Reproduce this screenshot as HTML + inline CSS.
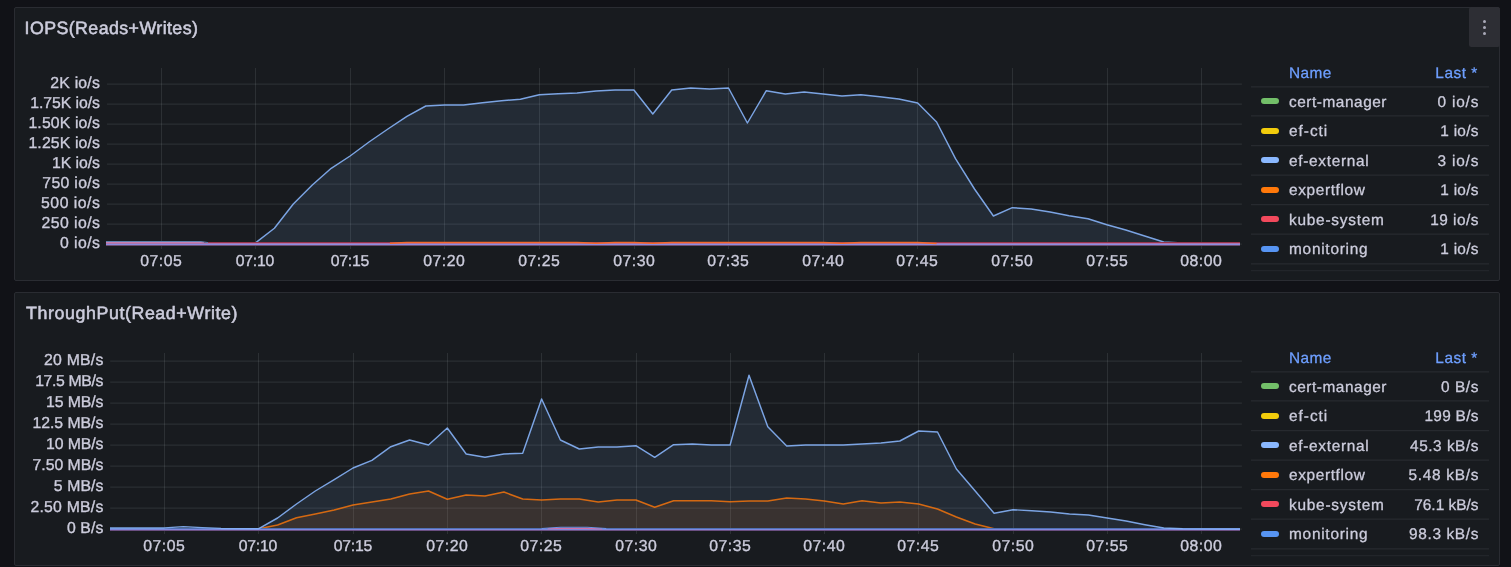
<!DOCTYPE html>
<html lang="en"><head><meta charset="utf-8"><title>Dashboard</title>
<style>
html,body{margin:0;padding:0;background:#111217;}
body{text-rendering:geometricPrecision;width:1511px;height:567px;overflow:hidden;position:relative;font-family:"Liberation Sans",Arial,sans-serif;color:#ccccdc;}
.panel{position:absolute;left:14px;width:1486px;height:274px;background:#181b1f;border:1px solid #2a2c32;border-radius:2px;box-sizing:border-box;}
.title{position:absolute;left:9.8px;top:9.1px;font-size:17.8px;line-height:22px;white-space:pre;color:#ccccdc;margin:0;font-weight:400;-webkit-text-stroke:0.55px #ccccdc;}
.menu{position:absolute;left:1454px;top:-1px;width:31px;height:40px;background:#2d2e34;border-radius:2.5px;}
.menu i{position:absolute;left:13.5px;width:3.2px;height:3.2px;border-radius:50%;background:#a9a9b8;}
svg.chart{position:absolute;left:-1px;top:-1px;}
.t{position:absolute;white-space:pre;font-size:15.8px;line-height:18px;height:18px;-webkit-text-stroke:0.35px #ccccdc;}
.yl{text-align:right;}
.xl{text-align:center;width:60px;}
.lg{position:absolute;left:1236px;width:238px;}
.lg .hd{position:absolute;color:#6e9fff;font-size:15.4px;line-height:18px;white-space:pre;-webkit-text-stroke:0.3px #6e9fff;}
.lg .sw{position:absolute;left:10px;width:18px;height:6px;border-radius:3px;}
.lg .nm,.lg .vl{position:absolute;font-size:15.4px;line-height:18px;white-space:pre;-webkit-text-stroke:0.3px #ccccdc;}
.lg .nm{left:38px;}
.lg .vl{right:10.6px;text-align:right;}
</style></head><body>
<section class="panel" style="top:7px">
<svg class="chart" width="1486" height="274" viewBox="14 7 1486 274">
<g stroke="rgb(240,250,255)" stroke-opacity="0.085" stroke-width="1.25">
<line x1="106.9" y1="84.0" x2="1241.9" y2="84.0"/>
<line x1="106.9" y1="104.0" x2="1241.9" y2="104.0"/>
<line x1="106.9" y1="124.0" x2="1241.9" y2="124.0"/>
<line x1="106.9" y1="144.0" x2="1241.9" y2="144.0"/>
<line x1="106.9" y1="164.0" x2="1241.9" y2="164.0"/>
<line x1="106.9" y1="184.0" x2="1241.9" y2="184.0"/>
<line x1="106.9" y1="204.0" x2="1241.9" y2="204.0"/>
<line x1="106.9" y1="224.0" x2="1241.9" y2="224.0"/>
<line x1="106.9" y1="244.0" x2="1241.9" y2="244.0"/>
</g>
<g fill="rgb(240,250,255)" fill-opacity="0.095" shape-rendering="crispEdges">
<rect x="161" y="68" width="1" height="181"/>
<rect x="255" y="68" width="1" height="181"/>
<rect x="350" y="68" width="1" height="181"/>
<rect x="444" y="68" width="1" height="181"/>
<rect x="539" y="68" width="1" height="181"/>
<rect x="634" y="68" width="1" height="181"/>
<rect x="728" y="68" width="1" height="181"/>
<rect x="823" y="68" width="1" height="181"/>
<rect x="917" y="68" width="1" height="181"/>
<rect x="1012" y="68" width="1" height="181"/>
<rect x="1107" y="68" width="1" height="181"/>
<rect x="1201" y="68" width="1" height="181"/>
</g>
<path d="M255.5,242.9 L274.4,228.3 L293.3,204.0 L312.3,185.0 L331.2,168.3 L350.1,156.0 L369.0,142.0 L387.9,129.0 L406.9,116.3 L425.8,106.0 L444.7,105.0 L463.6,105.0 L482.5,102.7 L501.5,100.7 L520.4,99.2 L539.3,94.7 L558.2,93.7 L577.1,93.0 L596.1,91.0 L615.0,90.0 L633.9,90.0 L652.8,114.0 L671.7,90.0 L690.7,88.0 L709.6,89.0 L728.5,88.0 L747.4,123.0 L766.3,90.7 L785.3,94.0 L804.2,92.0 L823.1,94.0 L842.0,96.0 L860.9,94.7 L879.9,96.7 L898.8,99.0 L917.7,103.0 L936.6,122.0 L955.5,158.7 L974.5,189.0 L993.4,216.0 L1012.3,207.7 L1031.2,209.0 L1050.1,212.0 L1069.1,215.7 L1088.0,218.7 L1106.9,224.7 L1125.8,230.0 L1144.7,236.0 L1163.7,242.0 L1182.6,243.0 L1201.5,243.2 L1240.0,243.2 L1240.0,244.0 L255.5,244.0 Z" fill="#8AB8FF" fill-opacity="0.1"/>
<path d="M255.5,242.9 L274.4,228.3 L293.3,204.0 L312.3,185.0 L331.2,168.3 L350.1,156.0 L369.0,142.0 L387.9,129.0 L406.9,116.3 L425.8,106.0 L444.7,105.0 L463.6,105.0 L482.5,102.7 L501.5,100.7 L520.4,99.2 L539.3,94.7 L558.2,93.7 L577.1,93.0 L596.1,91.0 L615.0,90.0 L633.9,90.0 L652.8,114.0 L671.7,90.0 L690.7,88.0 L709.6,89.0 L728.5,88.0 L747.4,123.0 L766.3,90.7 L785.3,94.0 L804.2,92.0 L823.1,94.0 L842.0,96.0 L860.9,94.7 L879.9,96.7 L898.8,99.0 L917.7,103.0 L936.6,122.0 L955.5,158.7 L974.5,189.0 L993.4,216.0 L1012.3,207.7 L1031.2,209.0 L1050.1,212.0 L1069.1,215.7 L1088.0,218.7 L1106.9,224.7 L1125.8,230.0 L1144.7,236.0 L1163.7,242.0 L1182.6,243.0 L1201.5,243.2 L1240.0,243.2" fill="none" stroke="#8AB8FF" stroke-width="1.45" stroke-linejoin="round" stroke-opacity="0.87"/>
<g shape-rendering="crispEdges"><rect x="106" y="241" width="95" height="1" fill="#5c7fae"/><rect x="106" y="242" width="98" height="1" fill="#c881b1"/><rect x="204" y="242" width="1036" height="1" fill="#98344a"/><rect x="106" y="243" width="1134" height="1" fill="#ad75b0"/><rect x="106" y="244" width="1134" height="1" fill="#8b8ce0"/><rect x="106" y="245" width="1134" height="1" fill="#6b4d70"/></g>
<path d="M201,241.5 L208,242.6" fill="none" stroke="#5c7fae" stroke-width="1"/>
<path d="M389.9,243.3 L406.9,242.4 L577.1,242.4 L596.1,243.2 L615.0,242.4 L633.9,242.4 L652.8,243.3 L671.7,242.4 L823.1,242.4 L842.0,243.3 L860.9,242.4 L917.7,242.4 L936.6,243.4" fill="none" stroke="#f4692c" stroke-width="1.5" stroke-linejoin="round"/>
<g stroke="rgb(204,204,220)" stroke-opacity="0.085" stroke-width="1.25">
<line x1="1251" y1="86.90" x2="1489" y2="86.90"/>
<line x1="1251" y1="115.90" x2="1489" y2="115.90"/>
<line x1="1251" y1="145.70" x2="1489" y2="145.70"/>
<line x1="1251" y1="175.20" x2="1489" y2="175.20"/>
<line x1="1251" y1="204.60" x2="1489" y2="204.60"/>
<line x1="1251" y1="234.00" x2="1489" y2="234.00"/>
<line x1="1251" y1="263.75" x2="1489" y2="263.75"/>
<line x1="1251" y1="270.60" x2="1489" y2="270.60" stroke-opacity="0.06"/>
</g>
</svg>
<h2 class="title" style="left:9.6px;letter-spacing:0.42px">IOPS(Reads+Writes)</h2>
<div class="menu"><i style="top:13.2px"></i><i style="top:19.1px"></i><i style="top:25px"></i></div>
<div class="t yl" style="left:0;width:85.12px;top:67.1px;letter-spacing:0.22px">2K io/s</div>
<div class="t yl" style="left:0;width:84.84px;top:87.1px;letter-spacing:-0.06px">1.75K io/s</div>
<div class="t yl" style="left:0;width:85.03px;top:107.1px;letter-spacing:0.13px">1.50K io/s</div>
<div class="t yl" style="left:0;width:85.03px;top:127.1px;letter-spacing:0.13px">1.25K io/s</div>
<div class="t yl" style="left:0;width:84.85px;top:147.1px;letter-spacing:-0.05px">1K io/s</div>
<div class="t yl" style="left:0;width:85.22px;top:167.1px;letter-spacing:0.32px">750 io/s</div>
<div class="t yl" style="left:0;width:85.40px;top:187.1px;letter-spacing:0.5px">500 io/s</div>
<div class="t yl" style="left:0;width:85.34px;top:207.1px;letter-spacing:0.44px">250 io/s</div>
<div class="t yl" style="left:0;width:85.33px;top:227.1px;letter-spacing:0.43px">0 io/s</div>
<div class="t xl" style="left:116.3px;top:244.9px;letter-spacing:0.55px">07:05</div>
<div class="t xl" style="left:209.9px;top:244.9px;letter-spacing:-0.2px">07:10</div>
<div class="t xl" style="left:304.9px;top:244.9px;letter-spacing:-0.2px">07:15</div>
<div class="t xl" style="left:399.3px;top:244.9px;letter-spacing:0.55px">07:20</div>
<div class="t xl" style="left:494.3px;top:244.9px;letter-spacing:0.55px">07:25</div>
<div class="t xl" style="left:589.3px;top:244.9px;letter-spacing:0.55px">07:30</div>
<div class="t xl" style="left:683.3px;top:244.9px;letter-spacing:0.55px">07:35</div>
<div class="t xl" style="left:778.3px;top:244.9px;letter-spacing:0.55px">07:40</div>
<div class="t xl" style="left:872.3px;top:244.9px;letter-spacing:0.55px">07:45</div>
<div class="t xl" style="left:967.3px;top:244.9px;letter-spacing:0.55px">07:50</div>
<div class="t xl" style="left:1062.3px;top:244.9px;letter-spacing:0.55px">07:55</div>
<div class="t xl" style="left:1156.3px;top:244.9px;letter-spacing:0.55px">08:00</div>
<div class="lg" style="top:0">
<div class="hd" style="left:38px;top:56.9px;letter-spacing:0.45px">Name</div>
<div class="hd" style="right:11.30px;top:56.9px;letter-spacing:0.5px">Last *</div>
<div class="sw" style="top:90.2px;background:#73BF69"></div><div class="nm" style="top:85.9px;letter-spacing:0.54px">cert-manager</div><div class="vl" style="right:9.76px;top:85.9px;letter-spacing:0.84px">0 io/s</div>
<div class="sw" style="top:119.7px;background:#F2CC0C"></div><div class="nm" style="top:115.4px;letter-spacing:0.98px">ef-cti</div><div class="vl" style="right:10.34px;top:115.4px;letter-spacing:0.26px">1 io/s</div>
<div class="sw" style="top:149.2px;background:#8AB8FF"></div><div class="nm" style="top:144.9px;letter-spacing:0.69px">ef-external</div><div class="vl" style="right:9.76px;top:144.9px;letter-spacing:0.84px">3 io/s</div>
<div class="sw" style="top:178.6px;background:#FF780A"></div><div class="nm" style="top:174.3px;letter-spacing:0.64px">expertflow</div><div class="vl" style="right:10.34px;top:174.3px;letter-spacing:0.26px">1 io/s</div>
<div class="sw" style="top:208.1px;background:#F2495C"></div><div class="nm" style="top:203.8px;letter-spacing:0.77px">kube-system</div><div class="vl" style="right:10.15px;top:203.8px;letter-spacing:0.45px">19 io/s</div>
<div class="sw" style="top:237.6px;background:#5794F2"></div><div class="nm" style="top:233.3px;letter-spacing:0.75px">monitoring</div><div class="vl" style="right:10.34px;top:233.3px;letter-spacing:0.26px">1 io/s</div>
</div>
</section>
<section class="panel" style="top:292px">
<svg class="chart" width="1486" height="274" viewBox="14 292 1486 274">
<g stroke="rgb(240,250,255)" stroke-opacity="0.085" stroke-width="1.25">
<line x1="110.2" y1="361.0" x2="1241.9" y2="361.0"/>
<line x1="110.2" y1="382.0" x2="1241.9" y2="382.0"/>
<line x1="110.2" y1="403.0" x2="1241.9" y2="403.0"/>
<line x1="110.2" y1="424.0" x2="1241.9" y2="424.0"/>
<line x1="110.2" y1="445.0" x2="1241.9" y2="445.0"/>
<line x1="110.2" y1="466.0" x2="1241.9" y2="466.0"/>
<line x1="110.2" y1="487.0" x2="1241.9" y2="487.0"/>
<line x1="110.2" y1="508.0" x2="1241.9" y2="508.0"/>
<line x1="110.2" y1="529.0" x2="1241.9" y2="529.0"/>
</g>
<g fill="rgb(240,250,255)" fill-opacity="0.095" shape-rendering="crispEdges">
<rect x="164" y="353" width="1" height="181"/>
<rect x="258" y="353" width="1" height="181"/>
<rect x="353" y="353" width="1" height="181"/>
<rect x="447" y="353" width="1" height="181"/>
<rect x="541" y="353" width="1" height="181"/>
<rect x="636" y="353" width="1" height="181"/>
<rect x="730" y="353" width="1" height="181"/>
<rect x="824" y="353" width="1" height="181"/>
<rect x="918" y="353" width="1" height="181"/>
<rect x="1013" y="353" width="1" height="181"/>
<rect x="1107" y="353" width="1" height="181"/>
<rect x="1201" y="353" width="1" height="181"/>
</g>
<path d="M110.0,527.9 L164.5,527.9 L183.4,526.6 L202.2,527.6 L221.1,528.4 L258.8,528.7 L277.6,518.0 L296.5,504.0 L315.3,491.0 L334.2,479.7 L353.0,468.0 L371.9,460.3 L390.8,446.7 L409.6,440.0 L428.5,445.0 L447.3,428.0 L466.2,454.0 L485.0,457.3 L503.9,454.0 L522.7,453.2 L541.6,399.0 L560.4,440.0 L579.3,449.0 L598.2,447.0 L617.0,447.0 L635.9,445.7 L654.7,457.3 L673.6,444.7 L692.4,444.0 L711.3,445.0 L730.1,445.0 L749.0,375.3 L767.8,426.7 L786.7,446.0 L805.6,445.0 L824.4,445.0 L843.3,445.0 L862.1,444.0 L881.0,443.0 L899.8,441.0 L918.7,431.0 L937.5,432.0 L956.4,469.0 L975.2,491.0 L994.1,513.3 L1013.0,509.7 L1031.8,510.7 L1050.7,512.0 L1069.5,514.0 L1088.4,515.0 L1107.2,518.0 L1126.1,521.0 L1144.9,524.7 L1163.8,528.0 L1182.6,528.8 L1240.0,529.0 L1240.0,529.0 L110.0,529.0 Z" fill="#8AB8FF" fill-opacity="0.1"/>
<path d="M258.8,528.8 L277.6,525.0 L296.5,517.7 L315.3,514.0 L334.2,510.0 L353.0,505.0 L371.9,502.0 L390.8,499.0 L409.6,494.0 L428.5,491.0 L447.3,499.3 L466.2,495.0 L485.0,496.0 L503.9,492.0 L522.7,499.0 L541.6,500.0 L560.4,499.0 L579.3,499.0 L598.2,502.0 L617.0,500.0 L635.9,500.0 L654.7,507.3 L673.6,500.7 L692.4,500.7 L711.3,500.7 L730.1,501.7 L749.0,501.0 L767.8,501.0 L786.7,498.0 L805.6,499.0 L824.4,501.0 L843.3,504.0 L862.1,500.7 L881.0,503.0 L899.8,502.0 L918.7,504.0 L937.5,509.0 L956.4,517.0 L975.2,524.0 L994.1,528.7 L994.1,529.0 L258.8,529.0 Z" fill="#FF780A" fill-opacity="0.1"/>
<path d="M258.8,528.8 L277.6,525.0 L296.5,517.7 L315.3,514.0 L334.2,510.0 L353.0,505.0 L371.9,502.0 L390.8,499.0 L409.6,494.0 L428.5,491.0 L447.3,499.3 L466.2,495.0 L485.0,496.0 L503.9,492.0 L522.7,499.0 L541.6,500.0 L560.4,499.0 L579.3,499.0 L598.2,502.0 L617.0,500.0 L635.9,500.0 L654.7,507.3 L673.6,500.7 L692.4,500.7 L711.3,500.7 L730.1,501.7 L749.0,501.0 L767.8,501.0 L786.7,498.0 L805.6,499.0 L824.4,501.0 L843.3,504.0 L862.1,500.7 L881.0,503.0 L899.8,502.0 L918.7,504.0 L937.5,509.0 L956.4,517.0 L975.2,524.0 L994.1,528.7" fill="none" stroke="#FF780A" stroke-width="1.6" stroke-linejoin="round" stroke-opacity="0.8"/>
<g shape-rendering="crispEdges"><rect x="110" y="528" width="1130" height="1" fill="#4f70b4"/><rect x="110" y="529" width="1130" height="1" fill="#8088dd"/><rect x="110" y="530" width="1130" height="1" fill="#6a4f82"/></g>
<path d="M547.6,528.7 L560.4,528.3 L585.3,528.3 L602.2,528.8" fill="none" stroke="#d070a8" stroke-width="1.3"/>
<path d="M541.6,528.5 L560.4,527.3 L587.3,527.3 L606.2,528.5" fill="none" stroke="#6f92e6" stroke-width="1.1"/>
<path d="M110.0,527.9 L164.5,527.9 L183.4,526.6 L202.2,527.6 L221.1,528.4 L258.8,528.7 L277.6,518.0 L296.5,504.0 L315.3,491.0 L334.2,479.7 L353.0,468.0 L371.9,460.3 L390.8,446.7 L409.6,440.0 L428.5,445.0 L447.3,428.0 L466.2,454.0 L485.0,457.3 L503.9,454.0 L522.7,453.2 L541.6,399.0 L560.4,440.0 L579.3,449.0 L598.2,447.0 L617.0,447.0 L635.9,445.7 L654.7,457.3 L673.6,444.7 L692.4,444.0 L711.3,445.0 L730.1,445.0 L749.0,375.3 L767.8,426.7 L786.7,446.0 L805.6,445.0 L824.4,445.0 L843.3,445.0 L862.1,444.0 L881.0,443.0 L899.8,441.0 L918.7,431.0 L937.5,432.0 L956.4,469.0 L975.2,491.0 L994.1,513.3 L1013.0,509.7 L1031.8,510.7 L1050.7,512.0 L1069.5,514.0 L1088.4,515.0 L1107.2,518.0 L1126.1,521.0 L1144.9,524.7 L1163.8,528.0 L1182.6,528.8 L1240.0,529.0" fill="none" stroke="#8AB8FF" stroke-width="1.45" stroke-linejoin="round" stroke-opacity="0.87"/>
<g stroke="rgb(204,204,220)" stroke-opacity="0.085" stroke-width="1.25">
<line x1="1251" y1="371.90" x2="1489" y2="371.90"/>
<line x1="1251" y1="400.90" x2="1489" y2="400.90"/>
<line x1="1251" y1="430.70" x2="1489" y2="430.70"/>
<line x1="1251" y1="460.20" x2="1489" y2="460.20"/>
<line x1="1251" y1="489.60" x2="1489" y2="489.60"/>
<line x1="1251" y1="519.00" x2="1489" y2="519.00"/>
<line x1="1251" y1="548.75" x2="1489" y2="548.75"/>
<line x1="1251" y1="555.60" x2="1489" y2="555.60" stroke-opacity="0.06"/>
</g>
</svg>
<h2 class="title" style="left:11.0px;letter-spacing:0.6px">ThroughPut(Read+Write)</h2>
<div class="t yl" style="left:0;width:88.63px;top:59.1px;letter-spacing:0.23px">20 MB/s</div>
<div class="t yl" style="left:0;width:88.04px;top:80.1px;letter-spacing:-0.36px">17.5 MB/s</div>
<div class="t yl" style="left:0;width:88.29px;top:101.1px;letter-spacing:-0.11px">15 MB/s</div>
<div class="t yl" style="left:0;width:88.37px;top:122.1px;letter-spacing:-0.03px">12.5 MB/s</div>
<div class="t yl" style="left:0;width:88.29px;top:143.1px;letter-spacing:-0.11px">10 MB/s</div>
<div class="t yl" style="left:0;width:88.36px;top:164.1px;letter-spacing:-0.04px">7.50 MB/s</div>
<div class="t yl" style="left:0;width:88.49px;top:185.1px;letter-spacing:0.09px">5 MB/s</div>
<div class="t yl" style="left:0;width:88.62px;top:206.1px;letter-spacing:0.22px">2.50 MB/s</div>
<div class="t yl" style="left:0;width:88.50px;top:227.1px;letter-spacing:0.1px">0 B/s</div>
<div class="t xl" style="left:119.3px;top:244.9px;letter-spacing:0.55px">07:05</div>
<div class="t xl" style="left:212.9px;top:244.9px;letter-spacing:-0.2px">07:10</div>
<div class="t xl" style="left:307.9px;top:244.9px;letter-spacing:-0.2px">07:15</div>
<div class="t xl" style="left:402.3px;top:244.9px;letter-spacing:0.55px">07:20</div>
<div class="t xl" style="left:496.3px;top:244.9px;letter-spacing:0.55px">07:25</div>
<div class="t xl" style="left:591.3px;top:244.9px;letter-spacing:0.55px">07:30</div>
<div class="t xl" style="left:685.3px;top:244.9px;letter-spacing:0.55px">07:35</div>
<div class="t xl" style="left:779.3px;top:244.9px;letter-spacing:0.55px">07:40</div>
<div class="t xl" style="left:873.3px;top:244.9px;letter-spacing:0.55px">07:45</div>
<div class="t xl" style="left:968.3px;top:244.9px;letter-spacing:0.55px">07:50</div>
<div class="t xl" style="left:1062.3px;top:244.9px;letter-spacing:0.55px">07:55</div>
<div class="t xl" style="left:1156.3px;top:244.9px;letter-spacing:0.55px">08:00</div>
<div class="lg" style="top:0">
<div class="hd" style="left:38px;top:56.9px;letter-spacing:0.45px">Name</div>
<div class="hd" style="right:11.30px;top:56.9px;letter-spacing:0.5px">Last *</div>
<div class="sw" style="top:90.2px;background:#73BF69"></div><div class="nm" style="top:85.9px;letter-spacing:0.54px">cert-manager</div><div class="vl" style="right:10.03px;top:85.9px;letter-spacing:0.57px">0 B/s</div>
<div class="sw" style="top:119.7px;background:#F2CC0C"></div><div class="nm" style="top:115.4px;letter-spacing:0.98px">ef-cti</div><div class="vl" style="right:10.32px;top:115.4px;letter-spacing:0.28px">199 B/s</div>
<div class="sw" style="top:149.2px;background:#8AB8FF"></div><div class="nm" style="top:144.9px;letter-spacing:0.69px">ef-external</div><div class="vl" style="right:10.08px;top:144.9px;letter-spacing:0.52px">45.3 kB/s</div>
<div class="sw" style="top:178.6px;background:#FF780A"></div><div class="nm" style="top:174.3px;letter-spacing:0.64px">expertflow</div><div class="vl" style="right:9.88px;top:174.3px;letter-spacing:0.72px">5.48 kB/s</div>
<div class="sw" style="top:208.1px;background:#F2495C"></div><div class="nm" style="top:203.8px;letter-spacing:0.77px">kube-system</div><div class="vl" style="right:10.60px;top:203.8px;letter-spacing:0.0px">76.1 kB/s</div>
<div class="sw" style="top:237.6px;background:#5794F2"></div><div class="nm" style="top:233.3px;letter-spacing:0.75px">monitoring</div><div class="vl" style="right:9.95px;top:233.3px;letter-spacing:0.65px">98.3 kB/s</div>
</div>
</section>
</body></html>
